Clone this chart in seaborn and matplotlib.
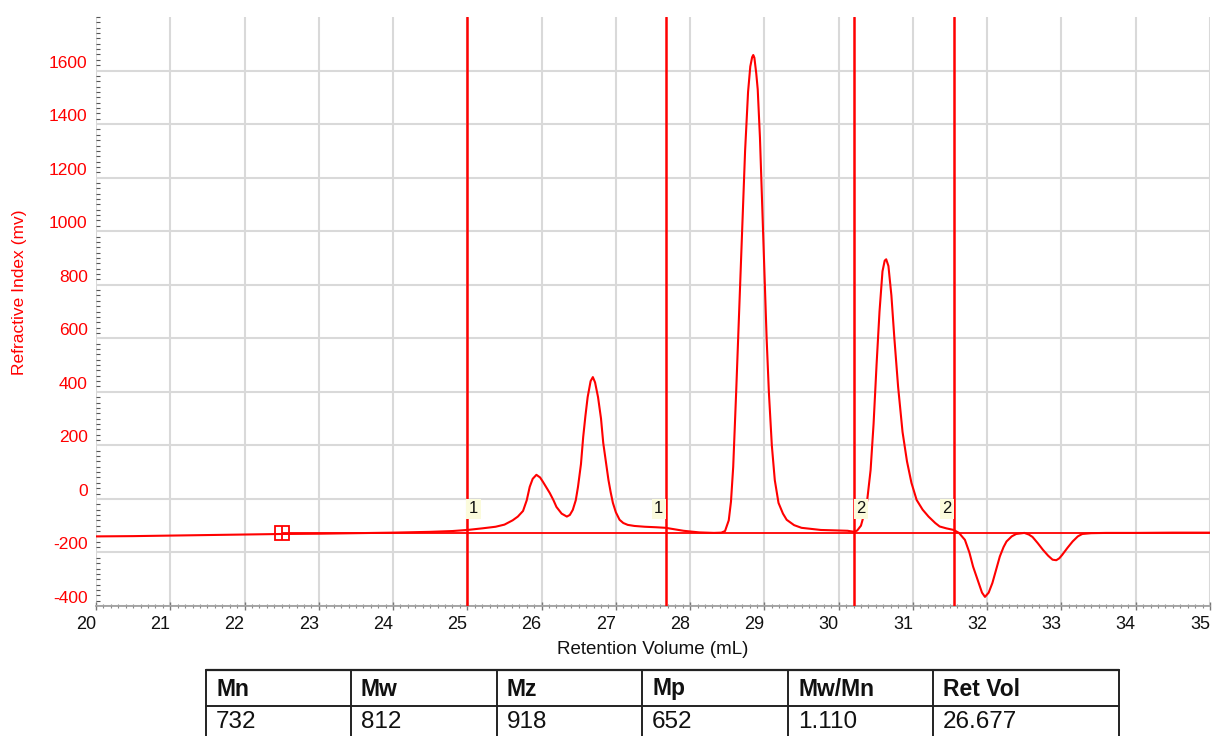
import matplotlib
matplotlib.use("Agg")
import matplotlib.pyplot as plt
from matplotlib.lines import Line2D
from matplotlib.ticker import MultipleLocator
import pandas as pd
import seaborn as sns

# ---------------- data ----------------
ret_vol = [20.0, 20.5, 21.0, 21.5, 22.0, 22.5, 23.0, 23.5, 24.0, 24.5, 24.8, 25.0, 25.2, 25.38,
           25.5, 25.61, 25.68, 25.75, 25.8, 25.84, 25.88, 25.93, 25.98, 26.02, 26.07, 26.11, 26.16,
           26.2, 26.27, 26.34, 26.38, 26.42, 26.46, 26.49, 26.53, 26.56, 26.59, 26.62, 26.66, 26.69,
           26.72, 26.76, 26.8, 26.83, 26.87, 26.9, 26.93, 26.96, 27.0, 27.05, 27.1, 27.16, 27.25,
           27.39, 27.55, 27.67, 27.91, 28.12, 28.32, 28.42, 28.47, 28.52, 28.55, 28.58, 28.62, 28.66,
           28.7, 28.74, 28.78, 28.81, 28.835, 28.85, 28.865, 28.89, 28.91, 28.94, 28.97, 29.0, 29.03,
           29.06, 29.1, 29.14, 29.19, 29.25, 29.3, 29.4, 29.5, 29.76, 30.12, 30.21, 30.25, 30.3,
           30.34, 30.38, 30.43, 30.47, 30.51, 30.55, 30.59, 30.62, 30.64, 30.67, 30.71, 30.75, 30.8,
           30.86, 30.92, 30.98, 31.05, 31.13, 31.21, 31.3, 31.36, 31.45, 31.55, 31.62, 31.7, 31.76,
           31.81, 31.88, 31.93, 31.97, 32.02, 32.07, 32.12, 32.17, 32.22, 32.26, 32.33, 32.39, 32.5,
           32.56, 32.61, 32.68, 32.75, 32.82, 32.88, 32.93, 32.97, 33.01, 33.08, 33.15, 33.22, 33.28,
           33.4, 33.6, 34.0, 34.5, 35.0]
ri_mv = [-140, -139, -137, -135, -133, -131, -130, -128, -126, -123, -120, -116, -110, -104,
         -96, -80, -66, -45, -5, 45, 75, 90, 80, 63, 40, 22, -5,
         -30, -55, -66, -60, -41, -5, 45, 130, 231, 310, 380, 440, 455,
         435, 380, 300, 209, 130, 71, 25, -15, -50, -78, -90, -97, -101,
         -104, -106, -108, -119, -125, -127, -126, -120, -80, -10, 120, 400, 700,
         1000, 1300, 1520, 1615, 1650, 1658, 1648, 1590, 1530, 1350, 1100, 850, 600,
         400, 200, 70, -15, -55, -78, -98, -108, -116, -119, -123, -118, -100,
         -60, -15, 108, 280, 500, 700, 850, 890, 895, 870, 760, 600, 420,
         250, 140, 60, -4, -40, -66, -90, -103, -110, -116, -127, -153, -200,
         -253, -310, -350, -366, -350, -314, -265, -215, -180, -159, -140, -131, -127,
         -133, -142, -165, -190, -212, -227, -229, -222, -209, -183, -159, -140, -131,
         -128, -127, -127, -126, -126]

baseline_level = -128
baseline_start = 22.5
limit_lines = [24.99, 27.67, 30.21, 31.55]
limit_labels = ["1", "1", "2", "2"]
label_side = ["right", "left", "right", "left"]
label_y = -37

table_headers = ["Mn", "Mw", "Mz", "Mp", "Mw/Mn", "Ret Vol"]
table_values = ["732", "812", "918", "652", "1.110", "26.677"]

x_ticks = list(range(20, 36))
y_ticks = list(range(-400, 1601, 200))

# ---------------- style ----------------
sns.set_theme(style="white")
plt.rcParams["font.family"] = ["Liberation Sans", "DejaVu Sans"]
plt.rcParams["axes.unicode_minus"] = False

W, H = 1213, 736
fig = plt.figure(figsize=(W / 100, H / 100), dpi=100)
ax = fig.add_axes([96 / W, 1 - 606 / H, 1114 / W, (606 - 17) / H])

red = "#ff0000"
df = pd.DataFrame({"Retention Volume (mL)": ret_vol, "RI": ri_mv})
sns.lineplot(data=df, x="Retention Volume (mL)", y="RI", ax=ax, color=red,
             linewidth=1.5, sort=False, zorder=5)

ax.set_xlim(20, 35)
ax.set_ylim(-400, 1800)
ax.set_xticks(x_ticks)
ax.set_yticks(y_ticks)
ax.xaxis.set_minor_locator(MultipleLocator(0.1))
ax.yaxis.set_minor_locator(MultipleLocator(20))
ax.grid(True, which="major", color="#d9d9d9", linewidth=1.5, zorder=0)
ax.set_axisbelow(True)

for side in ["top", "right", "left"]:
    ax.spines[side].set_visible(False)
ax.spines["bottom"].set_color("#9a9a9a")
ax.spines["bottom"].set_linewidth(1.2)

ax.tick_params(axis="x", which="major", direction="inout", length=6, width=1,
               color="#777777", labelsize=13, labelcolor="#111111", pad=4, bottom=True)
ax.tick_params(axis="x", which="minor", direction="inout", length=3, width=0.8,
               color="#888888", bottom=True)
ax.tick_params(axis="y", which="major", direction="in", length=0, labelsize=12.5,
               labelcolor=red, pad=6, left=True)
ax.tick_params(axis="y", which="minor", direction="in", length=3, width=0.8,
               color="#555555", left=True)
for lab in ax.get_xticklabels():
    lab.set_horizontalalignment("right")
for lab in ax.get_yticklabels():
    lab.set_verticalalignment("bottom")

ax.set_xlabel("Retention Volume (mL)", fontsize=13.5, color="#111111", labelpad=6)
ax.set_ylabel("Refractive Index (mv)", fontsize=12.5, color=red)
ax.yaxis.set_label_coords(-0.062, 0.533)

# baseline and limit lines
ax.hlines(baseline_level, baseline_start, 35, color=red, linewidth=1.3, zorder=4)
for xv in limit_lines:
    ax.axvline(xv, color=red, linewidth=1.8, zorder=6)
ax.plot([baseline_start], [baseline_level], marker="s", markersize=10, markerfacecolor="none",
        markeredgecolor=red, markeredgewidth=1.3, zorder=7)
ax.plot([baseline_start], [baseline_level], marker="|", markersize=10, color=red,
        markeredgewidth=1.3, zorder=7)

for xv, lab, side in zip(limit_lines, limit_labels, label_side):
    off = 0.03 if side == "right" else -0.03
    ax.text(xv + off, label_y, lab, ha="left" if side == "right" else "right", va="center",
            fontsize=12, color="#111111", zorder=8,
            bbox=dict(boxstyle="square,pad=0.15", facecolor="#fbfbdc", edgecolor="none"))

# ---------------- table ----------------
col_edges = [206, 351, 497, 642, 788, 933, 1119]
top_y, mid_y = 670, 706
lc = "#222222"
fig.add_artist(Line2D([col_edges[0] / W, col_edges[-1] / W], [1 - top_y / H] * 2,
                      transform=fig.transFigure, color=lc, linewidth=1.6))
fig.add_artist(Line2D([col_edges[0] / W, col_edges[-1] / W], [1 - mid_y / H] * 2,
                      transform=fig.transFigure, color=lc, linewidth=1.4))
for xe in col_edges:
    fig.add_artist(Line2D([xe / W] * 2, [1 - top_y / H, 0], transform=fig.transFigure,
                          color=lc, linewidth=1.4))
for i, (hd, val) in enumerate(zip(table_headers, table_values)):
    x0 = (col_edges[i] + 10) / W
    fig.text(x0, 1 - 689 / H, hd, ha="left", va="center", fontsize=16.5, fontweight="bold",
             color="#111111")
    fig.text(x0, 1 - 722 / H, val, ha="left", va="center", fontsize=17.5, color="#111111")

fig.savefig("out.png", dpi=100)
